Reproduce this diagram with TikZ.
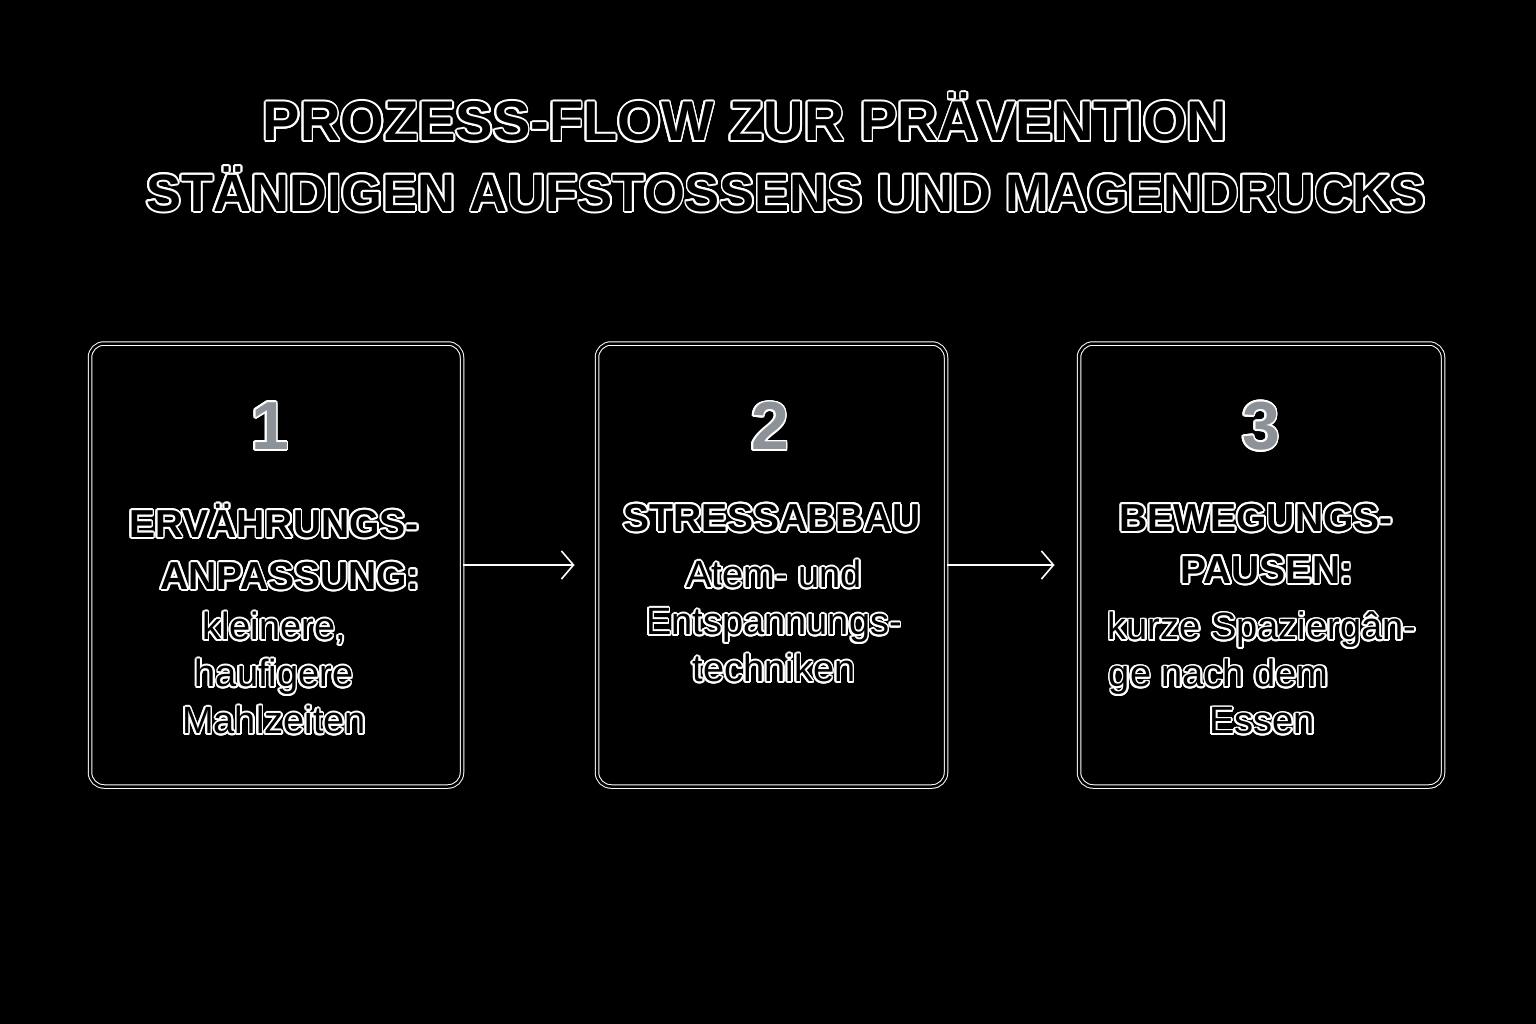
\documentclass[tikz,border=0pt]{standalone}
\usepackage{fontspec}
\setmainfont{Liberation Sans}
\usepackage[copies]{contour}
\contourlength{1.8pt}
\contournumber{20}
\usetikzlibrary{arrows.meta}
\definecolor{numgray}{RGB}{140,146,152}
\newcommand{\ot}[1]{\contour{white}{\color{black}#1}}
\newcommand{\on}[1]{\contour{white}{\color{numgray}#1}}
\tikzset{
  stepbox/.style={draw=white, double=black, double distance=2.5pt, line width=1pt, rounded corners=14pt},
  flow/.style={draw=white, line width=1.6pt, -{Straight Barb[length=12pt,width=28pt,line width=1.6pt]}},
  ttl/.style={font=\fontsize{56}{60}\selectfont\bfseries, text=black, inner sep=0},
  num/.style={font=\fontsize{68}{70}\selectfont\bfseries, inner sep=0},
  hd/.style={font=\fontsize{39}{52}\selectfont\bfseries, align=center, inner sep=0},
  bd/.style={font=\fontsize{38}{47}\selectfont, align=center, inner sep=0},
}
\begin{document}
\begin{tikzpicture}[x=1pt,y=-1pt]
\fill[black] (0,0) rectangle (1536,1024);
\useasboundingbox (0,0) rectangle (1536,1024);
\node[ttl] (t1) at (745,118) {\ot{PROZESS-FLOW ZUR PRÄVENTION}};
\node[ttl, font=\fontsize{52.5}{60}\selectfont\bfseries] (t2) at (786,190) {\ot{STÄNDIGEN AUFSTOSSENS UND MAGENDRUCKS}};
\node[stepbox, minimum width=372, minimum height=443] (b1) at (276,565) {};
\node[stepbox, minimum width=349, minimum height=443] (b2) at (771.5,565) {};
\node[stepbox, minimum width=364, minimum height=443] (b3) at (1261,565) {};
\draw[flow] (b1.east) -- ++(112,0) coordinate (a1);
\draw[flow] (b2.east) -- ++(108,0) coordinate (a2);
\node[num] (n1) at (270,427) {\on{1}};
\node[num] (n2) at (770,427) {\on{2}};
\node[num] (n3) at (1261,427) {\on{3}};
\node[hd, anchor=north] (h1) at (274,504) {\ot{ERVÄHRUNGS-}\\\ot{\ \ \ ANPASSUNG:}};
\node[bd, anchor=north] (d1) at (274,612) {\ot{kleinere,}\\\ot{haufigere}\\\ot{Mahlzeiten}};
\node[hd, anchor=north] (h2) at (772,504) {\ot{STRESSABBAU}};
\node[bd, anchor=north] (d2) at (774,560) {\ot{Atem- und}\\\ot{Entspannungs-}\\\ot{techniken}};
\node[hd, anchor=north] (h3) at (1256,504) {\ot{BEWEGUNGS-}\\\ot{\ \ PAUSEN:}};
\node[bd, anchor=north] (d3) at (1262,612) {\ot{kurze Spaziergân-}\\\ot{ge nach dem\qquad\ }\\\ot{Essen}};
\end{tikzpicture}
\end{document}
